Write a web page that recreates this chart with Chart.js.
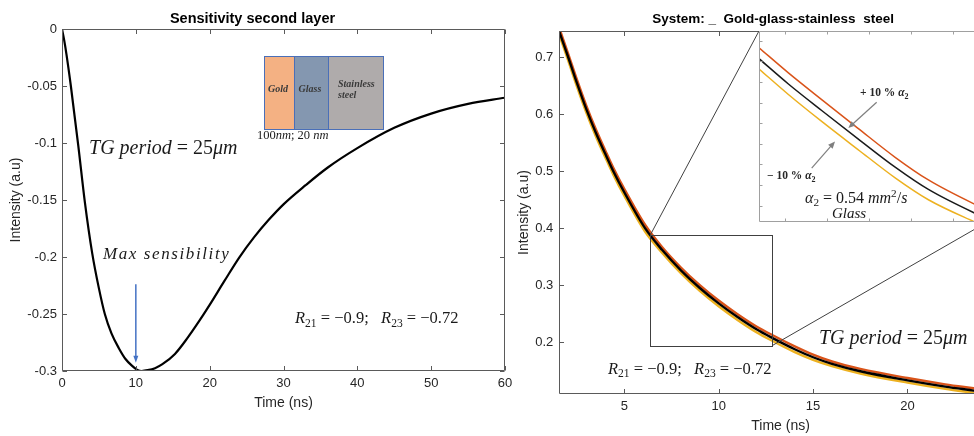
<!DOCTYPE html>
<html>
<head>
<meta charset="utf-8">
<title>Sensitivity second layer</title>
<script src="https://cdn.jsdelivr.net/npm/chart.js@4.4.0/dist/chart.umd.min.js"></script>
<style>
  html, body { margin: 0; padding: 0; background: #fff; overflow: hidden; }
  body { width: 974px; height: 436px; position: relative; }
  .panel { position: absolute; top: 0; }
  canvas { display: block; }
</style>
</head>
<body>
<div class="panel" id="leftBox" style="left:0"><canvas id="leftCanvas" width="520" height="436"></canvas></div>
<div class="panel" id="rightBox" style="left:515px"><canvas id="rightCanvas" width="516" height="436"></canvas></div>
<div class="panel" id="insetBox"><canvas id="insetCanvas"></canvas></div>
<script>
const SANS = '"Liberation Sans", Arial, sans-serif';
const SERIF = '"Liberation Serif", "DejaVu Serif", serif';
const FRAME = '#5a5a5a';
const TICK_TEXT = '#262626';
const NOTE = '#1a1a1a';

// --- left panel: sensitivity of the second layer ---
const sensTime = [0, 0.3, 0.6, 1.2, 2.2, 3.1, 4.1, 5, 5.8, 6.7, 7.7, 8.6, 9.5, 10.2, 10.8, 11.6, 12.6, 13.6, 15.3, 17, 18.5, 20, 22, 24, 26, 28, 30, 33, 36, 40, 45, 50, 55, 60];
const sensIntensity = [0, -0.010, -0.022, -0.05, -0.102, -0.152, -0.197, -0.2275, -0.250, -0.267, -0.280, -0.2895, -0.2955, -0.299, -0.300, -0.2993, -0.2975, -0.294, -0.285, -0.271, -0.257, -0.242, -0.221, -0.2005, -0.1828, -0.1674, -0.1538, -0.137, -0.1215, -0.1045, -0.0867, -0.0742, -0.0657, -0.0603];
const leftXTicks = [0, 10, 20, 30, 40, 50, 60];
const leftYTicks = [0, -0.05, -0.1, -0.15, -0.2, -0.25, -0.3];
const leftYTickLabels = ['0', '-0.05', '-0.1', '-0.15', '-0.2', '-0.25', '-0.3'];

// layer sketch (gold / glass / stainless steel)
const layerNames = ['Gold', 'Glass', 'Stainless|steel'];
const layerColors = ['#f4b183', '#8497b0', '#afabab'];
const layerEdges = [27.36, 31.42, 36.03, 43.48];
const layerTop = -0.0237, layerBottom = -0.0877;
const maxArrow = { x: 10, from: -0.224, to: -0.2927 };

// --- right panel: gold-glass-stainless steel decay ---
const decayTime = [1.56, 2.0, 2.5, 3.0, 3.5, 4.0, 4.42, 5.0, 6.1, 7.0, 8.0, 9.0, 10.0, 11.0, 12.0, 12.86, 14.0, 15.0, 16.0, 17.5, 20.0, 22.0, 23.5, 25.0];
const decayNominal = [0.745, 0.703, 0.654, 0.608, 0.567, 0.530, 0.500, 0.463, 0.400, 0.362, 0.326, 0.295, 0.268, 0.244, 0.2225, 0.207, 0.188, 0.1735, 0.162, 0.149, 0.133, 0.122, 0.115, 0.108];
const decayPlus10 = [0.751, 0.709, 0.660, 0.614, 0.573, 0.536, 0.506, 0.469, 0.406, 0.367, 0.331, 0.300, 0.273, 0.249, 0.2275, 0.212, 0.193, 0.178, 0.166, 0.153, 0.137, 0.126, 0.119, 0.112];
const decayMinus10 = [0.739, 0.697, 0.648, 0.602, 0.561, 0.524, 0.494, 0.457, 0.394, 0.357, 0.321, 0.290, 0.263, 0.239, 0.2175, 0.202, 0.183, 0.169, 0.158, 0.145, 0.129, 0.118, 0.111, 0.104];
const rightXTicks = [5, 10, 15, 20, 25];
const rightYTicks = [0.2, 0.3, 0.4, 0.5, 0.6, 0.7];
const zoomRect = [6.38, 12.84, 0.194, 0.388];      // x0, x1, y0, y1
const insetRegion = [12.135, 24.21, 0.4105, 0.746]; // where the inset sits

// --- inset (zoomed view) ---
const insetTime = [9.0, 9.42, 9.9, 10.41, 10.95, 11.42, 12.07, 12.26];
const insetNominal = [0.2913, 0.2790, 0.2660, 0.2525, 0.2385, 0.2278, 0.2165, 0.2137];
const insetPlus10 = [0.2966, 0.2844, 0.2713, 0.2576, 0.2433, 0.2324, 0.2208, 0.2179];
const insetMinus10 = [0.2863, 0.2739, 0.2607, 0.2473, 0.2333, 0.2228, 0.2122, 0.2094];
const insetXTicks = [9.37, 9.97, 10.57, 11.17, 11.77];
const insetYTicks = [0.22, 0.23, 0.24, 0.25, 0.26, 0.27, 0.28, 0.29, 0.30];

const ORANGE = '#d95319', YELLOW = '#edb120';

function pts(xs, ys) {
    return xs.map((x, i) => ({ x: x, y: ys[i] }));
}

// draws a run of math-ish text: italic parts, subscripts, superscripts
function mathText(ctx, x, y, parts, size, color, weight) {
    ctx.save();
    ctx.fillStyle = color;
    ctx.textAlign = 'left';
    ctx.textBaseline = 'alphabetic';
    let cx = x;
    const base = y + size * 0.33;
    parts.forEach(p => {
        let s = size, dy = 0;
        if (p.sub) { s = size * 0.7; dy = size * 0.22; }
        if (p.sup) { s = size * 0.7; dy = -size * 0.36; }
        ctx.font = (p.it ? 'italic ' : '') + (weight || '') + ' ' + s + 'px ' + SERIF;
        ctx.fillText(p.t, cx, base + dy);
        cx += ctx.measureText(p.t).width;
    });
    ctx.restore();
}

function arrow(ctx, x0, y0, x1, y1, color, width, head, headW) {
    const a = Math.atan2(y1 - y0, x1 - x0);
    ctx.save();
    ctx.strokeStyle = color;
    ctx.fillStyle = color;
    ctx.lineWidth = width;
    ctx.beginPath();
    ctx.moveTo(x0, y0);
    ctx.lineTo(x1 - Math.cos(a) * head * 0.8, y1 - Math.sin(a) * head * 0.8);
    ctx.stroke();
    ctx.beginPath();
    ctx.moveTo(x1, y1);
    ctx.lineTo(x1 - Math.cos(a) * head - Math.sin(a) * headW / 2, y1 - Math.sin(a) * head + Math.cos(a) * headW / 2);
    ctx.lineTo(x1 - Math.cos(a) * head + Math.sin(a) * headW / 2, y1 - Math.sin(a) * head - Math.cos(a) * headW / 2);
    ctx.closePath();
    ctx.fill();
    ctx.restore();
}

// MATLAB style box with inward ticks on every side
function framePlugin(color, tickLen) {
    return {
        id: 'frame',
        afterDatasetsDraw(chart) {
            const { ctx, chartArea: a, scales: { x, y } } = chart;
            const L = Math.round(a.left) + 0.5, R = Math.round(a.right) - 0.5;
            const T = Math.round(a.top) + 0.5, B = Math.round(a.bottom) - 0.5;
            ctx.save();
            ctx.strokeStyle = color;
            ctx.lineWidth = 1;
            ctx.beginPath();
            ctx.rect(L, T, R - L, B - T);
            x.ticks.forEach(t => {
                const p = Math.round(x.getPixelForValue(t.value)) + 0.5;
                ctx.moveTo(p, B); ctx.lineTo(p, B - tickLen);
                ctx.moveTo(p, T); ctx.lineTo(p, T + tickLen);
            });
            y.ticks.forEach(t => {
                const p = Math.round(y.getPixelForValue(t.value)) + 0.5;
                ctx.moveTo(L, p); ctx.lineTo(L + tickLen, p);
                ctx.moveTo(R, p); ctx.lineTo(R - tickLen, p);
            });
            ctx.stroke();
            ctx.restore();
        }
    };
}

function xAxis(min, max, ticks, labels, title, titlePad, height) {
    return {
        type: 'linear', position: 'bottom', min: min, max: max,
        afterBuildTicks: s => { s.ticks = ticks.map(v => ({ value: v })); },
        afterFit: s => { s.height = height; },
        grid: { display: false, drawTicks: false }, border: { display: false },
        ticks: {
            display: labels !== null, color: TICK_TEXT, padding: 5, maxRotation: 0, autoSkip: false,
            font: { family: SANS, size: 13 },
            callback: (v, i) => labels ? labels[i] : ''
        },
        title: { display: !!title, text: title, color: TICK_TEXT, font: { family: SANS, size: 14 }, padding: { top: 0, bottom: titlePad } }
    };
}

function yAxis(min, max, ticks, labels, title, titlePad, width, tickPad) {
    return {
        type: 'linear', position: 'left', min: min, max: max,
        afterBuildTicks: s => { s.ticks = ticks.map(v => ({ value: v })); },
        afterFit: s => { s.width = width; },
        grid: { display: false, drawTicks: false }, border: { display: false },
        ticks: {
            display: labels !== null, color: TICK_TEXT, padding: tickPad || 5, autoSkip: false,
            font: { family: SANS, size: 13 },
            callback: (v, i) => labels ? labels[i] : ''
        },
        title: { display: !!title, text: title, color: TICK_TEXT, font: { family: SANS, size: 14 }, padding: { top: titlePad, bottom: 0 } }
    };
}

function line(data, color, width) {
    return {
        data: data, borderColor: color, borderWidth: width, pointRadius: 0,
        fill: false, cubicInterpolationMode: 'monotone'
    };
}

// --- left chart ---
function drawLeftExtras(chart) {
    const { ctx, scales: { x, y } } = chart;
    const top = y.getPixelForValue(layerTop), bot = y.getPixelForValue(layerBottom);
    ctx.save();
    layerColors.forEach((c, i) => {
        const l = x.getPixelForValue(layerEdges[i]), r = x.getPixelForValue(layerEdges[i + 1]);
        ctx.fillStyle = c;
        ctx.fillRect(l, top, r - l, bot - top);
        ctx.strokeStyle = '#4a6fb8';
        ctx.lineWidth = 1;
        ctx.strokeRect(Math.round(l) + 0.5, Math.round(top) + 0.5, Math.round(r - l), Math.round(bot - top));
        ctx.fillStyle = '#3a3a3a';
        ctx.font = 'italic bold 10px ' + SERIF;
        ctx.textBaseline = 'middle';
        const rows = layerNames[i].split('|');
        const mid = (top + bot) / 2 - 3;
        rows.forEach((row, k) => {
            const yy = rows.length > 1 ? mid - 5 + k * 11 : mid;
            const xx = rows.length > 1 ? l + 10 : (l + r) / 2 - ctx.measureText(row).width / 2 - 1;
            ctx.fillText(row, xx, yy);
        });
    });
    ctx.restore();

    mathText(ctx, x.getPixelForValue(26.41), y.getPixelForValue(-0.093),
        [{ t: '100' }, { t: 'nm', it: 1 }, { t: '; 20 ' }, { t: 'nm', it: 1 }], 12.5, NOTE);

    mathText(ctx, x.getPixelForValue(3.66), y.getPixelForValue(-0.1035),
        [{ t: 'TG period', it: 1 }, { t: ' = 25' }, { t: 'μm', it: 1 }], 20, NOTE);

    ctx.save();
    ctx.letterSpacing = '1.6px';
    mathText(ctx, x.getPixelForValue(5.55), y.getPixelForValue(-0.197),
        [{ t: 'Max sensibility', it: 1 }], 17, NOTE);
    ctx.restore();

    mathText(ctx, x.getPixelForValue(31.56), y.getPixelForValue(-0.2535),
        [{ t: 'R', it: 1 }, { t: '21', sub: 1 }, { t: ' = −0.9;   ' }, { t: 'R', it: 1 }, { t: '23', sub: 1 }, { t: ' = −0.72' }], 16.5, NOTE);

    const ax = x.getPixelForValue(maxArrow.x);
    arrow(ctx, ax, y.getPixelForValue(maxArrow.from), ax, y.getPixelForValue(maxArrow.to), '#4472c4', 1.5, 7, 5);
}

const leftChart = new Chart(document.getElementById('leftCanvas'), {
    type: 'line',
    data: { datasets: [line(pts(sensTime, sensIntensity), '#000000', 2.2)] },
    options: {
        responsive: false, animation: false,
        layout: { padding: { left: 0, right: 15, top: 0, bottom: 0 } },
        scales: {
            x: xAxis(0, 60, leftXTicks, leftXTicks.map(String), 'Time (ns)', 24.6, 65),
            y: yAxis(-0.3, 0, leftYTicks, leftYTickLabels, 'Intensity (a.u)', 7.6, 62, 5)
        },
        plugins: {
            legend: { display: false }, tooltip: { enabled: false },
            title: {
                display: true, text: 'Sensitivity second layer', color: '#000',
                font: { family: SANS, size: 14.5, weight: 'bold' }, padding: { top: 10.3, bottom: 1.3 }
            }
        }
    },
    plugins: [framePlugin(FRAME, 4.5), { id: 'leftExtras', afterDatasetsDraw: drawLeftExtras }]
});

// --- right chart ---
const rightTitle = 'System: _  Gold-glass-stainless  steel';

function drawRightExtras(chart) {
    const { ctx, chartArea: a, scales: { x, y } } = chart;
    const px = v => x.getPixelForValue(v), py = v => y.getPixelForValue(v);
    ctx.save();
    ctx.strokeStyle = '#404040';
    ctx.lineWidth = 1;
    ctx.strokeRect(Math.round(px(zoomRect[0])) + 0.5, Math.round(py(zoomRect[3])) + 0.5,
        Math.round(px(zoomRect[1]) - px(zoomRect[0])), Math.round(py(zoomRect[2]) - py(zoomRect[3])));
    ctx.beginPath();
    ctx.moveTo(px(zoomRect[0]), py(zoomRect[3]));
    ctx.lineTo(px(insetRegion[0]), py(insetRegion[3]));
    ctx.moveTo(px(zoomRect[1]), py(zoomRect[2]));
    ctx.lineTo(px(insetRegion[1]), py(insetRegion[2]));
    ctx.stroke();

    // title sits a little left of the axes centre, as in the source figure
    ctx.fillStyle = '#000';
    ctx.font = 'bold 13.5px ' + SANS;
    ctx.textAlign = 'center';
    ctx.textBaseline = 'middle';
    ctx.fillText(rightTitle, (a.left + a.right) / 2 - 7.5, 19.3);
    ctx.restore();

    mathText(ctx, px(15.31), py(0.2075),
        [{ t: 'TG period', it: 1 }, { t: ' = 25' }, { t: 'μm', it: 1 }], 20, NOTE);
    mathText(ctx, px(4.14), py(0.1545),
        [{ t: 'R', it: 1 }, { t: '21', sub: 1 }, { t: ' = −0.9;   ' }, { t: 'R', it: 1 }, { t: '23', sub: 1 }, { t: ' = −0.72' }], 16.5, NOTE);
}

const rightChart = new Chart(document.getElementById('rightCanvas'), {
    type: 'line',
    data: {
        datasets: [
            line(pts(decayTime, decayNominal), '#000000', 2.4),
            line(pts(decayTime, decayPlus10), ORANGE, 2.4),
            line(pts(decayTime, decayMinus10), YELLOW, 2.4)
        ]
    },
    options: {
        responsive: false, animation: false,
        layout: { padding: { left: 0, right: 29.1, top: 31, bottom: 0 } },
        scales: {
            x: xAxis(decayTime[0], 25, rightXTicks, rightXTicks.map(String), 'Time (ns)', 1.6, 42),
            y: yAxis(0.109, 0.746, rightYTicks, rightYTicks.map(v => v.toFixed(1)), 'Intensity (a.u)', 0.9, 44.3, 6)
        },
        plugins: {
            legend: { display: false }, tooltip: { enabled: false }, title: { display: false }
        }
    },
    plugins: [framePlugin(FRAME, 4.5), { id: 'rightExtras', afterDatasetsDraw: drawRightExtras }]
});

// --- inset, placed over the region reserved in the right chart ---
const rx = rightChart.scales.x, ry = rightChart.scales.y;
const rightLeft = document.getElementById('rightBox').offsetLeft;
const iL = Math.round(rightLeft + rx.getPixelForValue(insetRegion[0]));
const iR = Math.round(rightLeft + rx.getPixelForValue(insetRegion[1]));
const iT = Math.round(ry.getPixelForValue(insetRegion[3]));
const iB = Math.round(ry.getPixelForValue(insetRegion[2]));
const insetBox = document.getElementById('insetBox');
insetBox.style.left = iL + 'px';
insetBox.style.top = iT + 'px';
const insetCanvas = document.getElementById('insetCanvas');
insetCanvas.width = iR - iL;
insetCanvas.height = iB - iT;

function drawInsetExtras(chart) {
    const { ctx, scales: { x, y } } = chart;
    const px = v => x.getPixelForValue(v), py = v => y.getPixelForValue(v);
    arrow(ctx, px(10.681), py(0.2701), px(10.276), py(0.2576), '#7f7f7f', 1.2, 7, 6);
    arrow(ctx, px(9.753), py(0.2382), px(10.086), py(0.2511), '#7f7f7f', 1.2, 7, 6);
    mathText(ctx, px(10.443), py(0.2749), [{ t: '+ 10 % ' }, { t: 'α', it: 1 }, { t: '2', sub: 1 }], 11.5, '#262626', 'bold');
    mathText(ctx, px(9.114), py(0.2346), [{ t: '− 10 % ' }, { t: 'α', it: 1 }, { t: '2', sub: 1 }], 11.5, '#262626', 'bold');
    mathText(ctx, px(9.657), py(0.2238),
        [{ t: 'α', it: 1 }, { t: '2', sub: 1 }, { t: ' = 0.54 ' }, { t: 'mm', it: 1 }, { t: '2', sup: 1 }, { t: '/' }, { t: 's', it: 1 }], 16, NOTE);
    mathText(ctx, px(10.043), py(0.2165), [{ t: 'Glass', it: 1 }], 15, NOTE);
}

new Chart(insetCanvas, {
    type: 'line',
    data: {
        datasets: [
            line(pts(insetTime, insetNominal), '#1a1a1a', 1.5),
            line(pts(insetTime, insetPlus10), ORANGE, 1.5),
            line(pts(insetTime, insetMinus10), YELLOW, 1.5)
        ]
    },
    options: {
        responsive: false, animation: false,
        layout: { padding: 0 },
        scales: {
            x: xAxis(9.0, 9.0 + (iR - iL) / 70, insetXTicks, null, '', 0, 0),
            y: yAxis(0.212, 0.212 + (iB - iT) / 2060, insetYTicks, null, '', 0, 0)
        },
        plugins: { legend: { display: false }, tooltip: { enabled: false }, title: { display: false } }
    },
    plugins: [
        { id: 'insetBg', beforeDraw: c => { c.ctx.save(); c.ctx.fillStyle = '#fff'; c.ctx.fillRect(0, 0, c.width, c.height); c.ctx.restore(); } },
        framePlugin('#a0a0a0', 3),
        { id: 'insetExtras', afterDatasetsDraw: drawInsetExtras }
    ]
});
</script>
</body>
</html>
